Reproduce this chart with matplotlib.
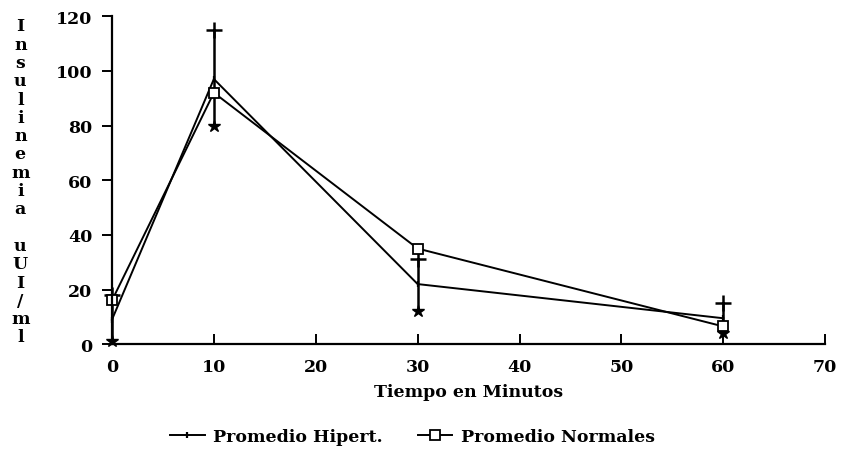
import matplotlib
matplotlib.use("Agg")
import matplotlib.pyplot as plt

# tiempos (min) y promedios de insulinemia (uUI/ml)
tiempo = [0, 10, 30, 60]
hipert = [9, 97, 22, 9.5]
normales = [16, 92, 35, 6.5]
# extremos de las barras de error (Hipert.)
err_alto = [18, 115, 31, 15]
err_bajo = [1, 80, 12, 4]

ylabel_txt = "Insulinemia uUI/ml"
xticks = [0, 10, 20, 30, 40, 50, 60, 70]
yticks = [0, 20, 40, 60, 80, 100, 120]

plt.rcParams["font.family"] = ["DejaVu Serif"]
plt.rcParams["font.weight"] = "bold"

fig = plt.figure(figsize=(8.42, 4.64), dpi=100)
ax = fig.add_axes([0.133, 0.256, 0.847, 0.707])

# barras de error
for t, hi, lo in zip(tiempo, err_alto, err_bajo):
    ax.plot([t, t], [lo, hi], color="black", lw=1.8)
ax.plot(tiempo, err_alto, "+", color="black", ms=11, mew=1.8)
ax.plot(tiempo, err_bajo, "*", color="black", ms=9)

l1, = ax.plot(tiempo, hipert, "-", color="black", lw=1.4, marker="|", ms=5, mew=1.6,
              label="Promedio Hipert.")
l2, = ax.plot(tiempo, normales, "-", color="black", lw=1.4, marker="s", ms=6.5,
              mfc="white", mew=1.3, label="Promedio Normales")

ax.set_xlim(0, 70)
ax.set_ylim(0, 120)
ax.set_xticks(xticks)
ax.set_yticks(yticks)
ax.spines["top"].set_visible(False)
ax.spines["right"].set_visible(False)
ax.spines["left"].set_linewidth(1.6)
ax.spines["bottom"].set_linewidth(1.6)
ax.tick_params(axis="y", direction="out", length=7, width=1.4, labelsize=12.5, pad=7)
ax.tick_params(axis="x", direction="in", length=7, width=1.4, labelsize=12.5, pad=10)
for lab in ax.get_xticklabels() + ax.get_yticklabels():
    lab.set_fontweight("bold")
ax.set_xlabel("Tiempo en Minutos", fontsize=12.5, fontweight="bold", labelpad=6)
for ln in ax.lines:
    ln.set_clip_on(False)

# etiqueta del eje y, letras apiladas
fig.text(0.024, 0.607, "\n".join(list(ylabel_txt)),
         ha="center", va="center", fontsize=12.5, fontweight="bold", linespacing=1.1)

fig.legend(handles=[l1, l2], loc="center", bbox_to_anchor=(0.49, 0.058), ncol=2,
           frameon=False, handlelength=2.0, columnspacing=2.0, handletextpad=0.5,
           prop={"weight": "bold", "size": 12.5})

fig.savefig("out.png", dpi=100)
